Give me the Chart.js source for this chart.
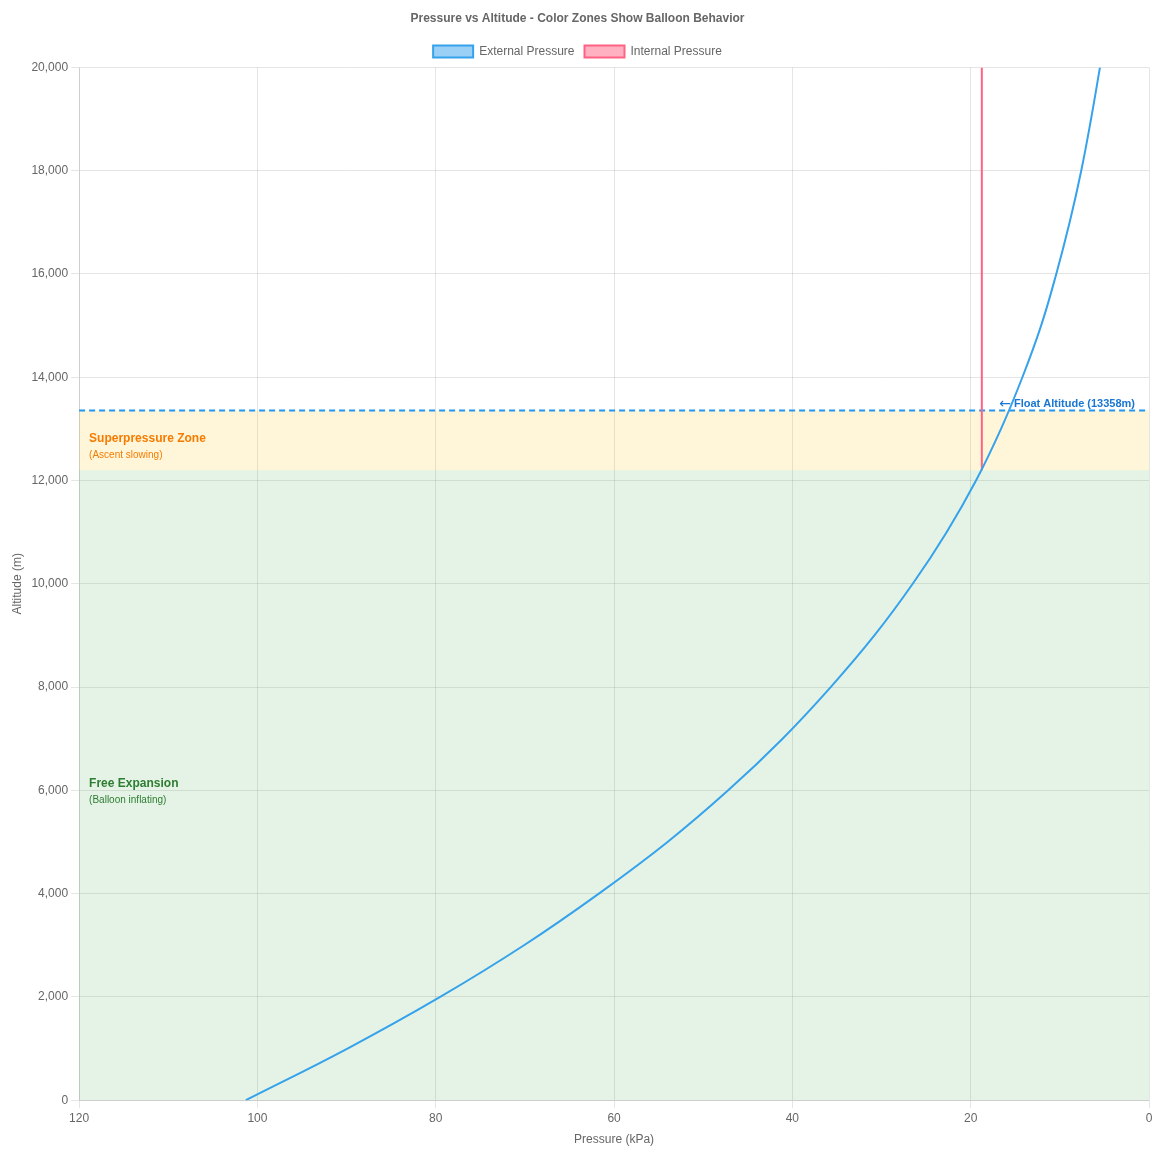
<!DOCTYPE html>
<html>
<head>
<meta charset="utf-8">
<script src="https://cdn.jsdelivr.net/npm/chart.js@4.4.1/dist/chart.umd.min.js"></script>
<style>
  html, body { margin: 0; padding: 0; background: #fff; }
  #wrap { width: 1170px; height: 1156px; }
</style>
</head>
<body>
<div id="wrap"><canvas id="pressureChart"></canvas></div>
<script>
// Altitudes (m) and standard atmosphere pressure (kPa)
const altitudes = [0, 1000, 2000, 3000, 4000, 5000, 6000, 7000, 8000, 9000, 10000,
    11000, 12000, 13000, 14000, 15000, 16000, 17000, 18000, 19000, 20000];
const externalPressure = [101.3, 89.9, 79.5, 70.1, 61.7, 54.0, 47.2, 41.1, 35.7, 30.8, 26.5,
    22.7, 19.4, 16.6, 14.2, 12.1, 10.4, 8.9, 7.6, 6.5, 5.5];

// Internal pressure stays fixed once the envelope is full
const internalAltitudes = [12200, 20000];
const internalPressure = [18.75, 18.75];

// Zones + float altitude
const fullInflationAltitude = 12200;
const floatAltitude = 13358;
const xTicksMin = 0;
const xTicksMax = 120;

const toPoints = (xs, ys) => xs.map((x, i) => ({ x: x, y: ys[i] }));

// Draws the coloured zones, zone labels and float altitude line
const zonePlugin = {
    id: 'zones',
    beforeDatasetsDraw(chart) {
        const { ctx, chartArea: a, scales } = chart;
        const y = scales.y;
        const yFull = y.getPixelForValue(fullInflationAltitude);
        const yFloat = y.getPixelForValue(floatAltitude);
        const yZero = y.getPixelForValue(0);

        ctx.save();
        // Free expansion zone
        ctx.fillStyle = 'rgba(76, 175, 80, 0.15)';
        ctx.fillRect(a.left, yFull, a.right - a.left, yZero - yFull);
        // Superpressure zone
        ctx.fillStyle = 'rgba(255, 193, 7, 0.15)';
        ctx.fillRect(a.left, yFloat, a.right - a.left, yFull - yFloat);

        ctx.textAlign = 'left';
        ctx.textBaseline = 'middle';
        const font = "'Helvetica Neue', Helvetica, Arial, sans-serif";

        // Superpressure labels
        const midSuper = (yFull + yFloat) / 2;
        ctx.fillStyle = '#f57c00';
        ctx.font = 'bold 12px ' + font;
        ctx.fillText('Superpressure Zone', a.left + 10, midSuper - 2);
        ctx.font = '10px ' + font;
        ctx.fillText('(Ascent slowing)', a.left + 10, midSuper + 15);

        // Free expansion labels
        const midFree = (yFull + yZero) / 2;
        ctx.fillStyle = '#2e7d32';
        ctx.font = 'bold 12px ' + font;
        ctx.fillText('Free Expansion', a.left + 10, midFree - 2);
        ctx.font = '10px ' + font;
        ctx.fillText('(Balloon inflating)', a.left + 10, midFree + 15);

        // Float altitude dashed line
        ctx.strokeStyle = '#2196f3';
        ctx.lineWidth = 2;
        ctx.setLineDash([6, 4]);
        ctx.beginPath();
        ctx.moveTo(a.left, yFloat);
        ctx.lineTo(a.right, yFloat);
        ctx.stroke();
        ctx.setLineDash([]);

        ctx.fillStyle = '#1976d2';
        ctx.font = 'bold 11px ' + font;
        ctx.textAlign = 'right';
        const label = 'Float Altitude (' + floatAltitude + 'm)';
        ctx.fillText(label, a.right - 14, yFloat - 6);
        const w = ctx.measureText(label).width;
        ctx.font = '14px DejaVu Sans';
        ctx.fillText('\u2190', a.right - 17 - w, yFloat - 6);
        ctx.restore();
    }
};

const ctx = document.getElementById('pressureChart').getContext('2d');
new Chart(ctx, {
    type: 'line',
    data: {
        datasets: [{
            label: 'External Pressure',
            data: toPoints(externalPressure, altitudes),
            borderColor: 'rgb(54, 162, 235)',
            backgroundColor: 'rgba(54, 162, 235, 0.5)',
            borderWidth: 2,
            pointRadius: 0,
            tension: 0.4,
            fill: false
        }, {
            label: 'Internal Pressure',
            data: toPoints(internalPressure, internalAltitudes),
            borderColor: 'rgb(255, 99, 132)',
            backgroundColor: 'rgba(255, 99, 132, 0.5)',
            borderWidth: 2,
            pointRadius: 0,
            fill: false
        }]
    },
    options: {
        responsive: true,
        maintainAspectRatio: false,
        animation: false,
        layout: { padding: { left: 6, right: 21, top: 1, bottom: 5 } },
        plugins: {
            title: {
                display: true,
                text: 'Pressure vs Altitude - Color Zones Show Balloon Behavior',
                color: '#666',
                font: { size: 12, weight: 'bold' }
            },
            legend: { labels: { color: '#666' } },
            tooltip: { enabled: false }
        },
        scales: {
            x: {
                type: 'linear',
                reverse: true,
                min: xTicksMin,
                max: xTicksMax,
                ticks: { stepSize: 20, color: '#666' },
                title: { display: true, text: 'Pressure (kPa)', color: '#666' }
            },
            y: {
                type: 'linear',
                min: 0,
                max: 20000,
                ticks: { stepSize: 2000, color: '#666' },
                title: { display: true, text: 'Altitude (m)', color: '#666' }
            }
        }
    },
    plugins: [zonePlugin]
});
</script>
</body>
</html>
